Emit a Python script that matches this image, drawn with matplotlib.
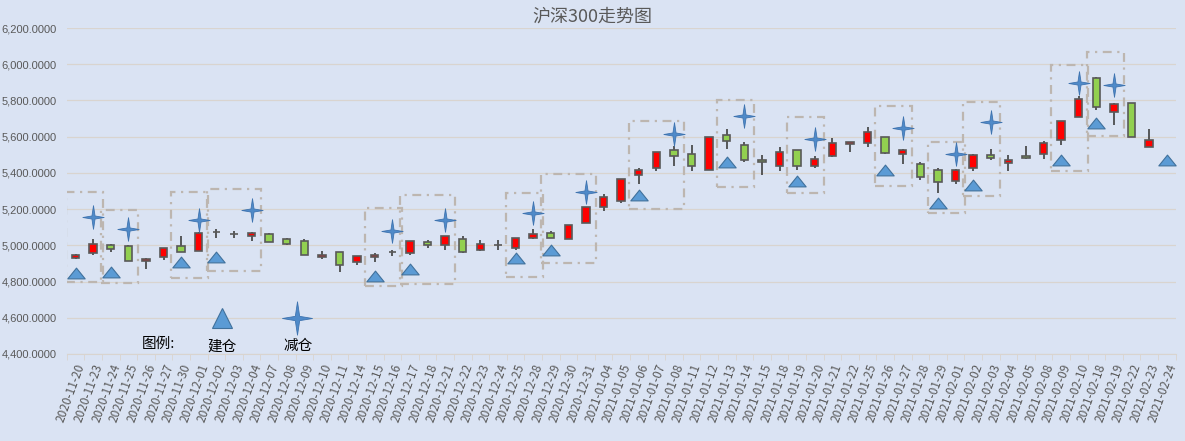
import matplotlib
matplotlib.use("Agg")
import matplotlib.pyplot as plt
import numpy as np
from matplotlib.path import Path
from matplotlib.patches import Rectangle
from matplotlib.ticker import FuncFormatter

plt.rcParams["font.family"] = ["Noto Sans CJK SC", "DejaVu Sans"]

dates = [
    "2020-11-20", "2020-11-23", "2020-11-24", "2020-11-25", "2020-11-26", "2020-11-27", "2020-11-30",
    "2020-12-01", "2020-12-02", "2020-12-03", "2020-12-04", "2020-12-07", "2020-12-08", "2020-12-09",
    "2020-12-10", "2020-12-11", "2020-12-14", "2020-12-15", "2020-12-16", "2020-12-17", "2020-12-18",
    "2020-12-21", "2020-12-22", "2020-12-23", "2020-12-24", "2020-12-25", "2020-12-28", "2020-12-29",
    "2020-12-30", "2020-12-31", "2021-01-04", "2021-01-05", "2021-01-06", "2021-01-07", "2021-01-08",
    "2021-01-11", "2021-01-12", "2021-01-13", "2021-01-14", "2021-01-15", "2021-01-18", "2021-01-19",
    "2021-01-20", "2021-01-21", "2021-01-22", "2021-01-25", "2021-01-26", "2021-01-27", "2021-01-28",
    "2021-01-29", "2021-02-01", "2021-02-02", "2021-02-03", "2021-02-04", "2021-02-05", "2021-02-08",
    "2021-02-09", "2021-02-10", "2021-02-18", "2021-02-19", "2021-02-22", "2021-02-23", "2021-02-24",
]

nan = np.nan
open_ = [4930, 4957, 5000, 4995, 4914, 4935, 4995, 4968, 5074, 5063, 5049, 5065, 5033, 5022, 4934, 4962,
         4907, 4935, 4964, 4960, 5016, 5000, 5037, 4976, 5000, 4987, 5042, 5070, 5035, 5125, 5213, 5244,
         5389, 5425, 5526, 5504, 5417, 5609, 5555, 5471, 5438, 5526, 5438, 5491, 5559, 5564, 5598, 5504,
         5449, 5415, 5355, 5426, 5498, 5456, 5494, 5503, 5580, 5707, 5923, 5735, 5785, 5542, nan]
high = [4952, 5033, 5006, 5004, 4930, 4984, 5054, 5076, 5092, 5078, 5076, 5070, 5038, 5033, 4968, 4962,
        4941, 4957, 4975, 5022, 5027, 5049, 5051, 5031, 5031, 5042, 5092, 5079, 5114, 5213, 5284, 5367,
        5428, 5517, 5550, 5553, 5599, 5644, 5568, 5498, 5542, 5526, 5495, 5592, 5570, 5653, 5598, 5533,
        5461, 5426, 5424, 5504, 5531, 5498, 5547, 5577, 5687, 5825, 5932, 5785, 5785, 5641, nan]
low = [4925, 4946, 4964, 4912, 4870, 4919, 4962, 4968, 5042, 5038, 5022, 5016, 5000, 4946, 4922, 4854,
       4892, 4908, 4941, 4948, 4984, 4973, 4958, 4969, 4974, 4976, 5033, 5040, 5035, 5125, 5189, 5235,
       5340, 5408, 5439, 5408, 5414, 5531, 5458, 5388, 5410, 5415, 5427, 5485, 5515, 5542, 5502, 5450,
       5358, 5288, 5338, 5410, 5471, 5410, 5477, 5476, 5553, 5707, 5746, 5663, 5597, 5542, nan]
close = [4946, 5006, 4978, 4914, 4925, 4984, 4962, 5070, 5074, 5063, 5067, 5020, 5009, 4946, 4946, 4892,
         4941, 4946, 4964, 5022, 5000, 5049, 4965, 5009, 5000, 5042, 5064, 5040, 5114, 5213, 5268, 5367,
         5416, 5517, 5493, 5438, 5599, 5576, 5469, 5458, 5517, 5438, 5476, 5564, 5570, 5625, 5509, 5526,
         5377, 5349, 5417, 5498, 5482, 5471, 5481, 5564, 5687, 5807, 5766, 5779, 5597, 5580, nan]

# 建仓 (triangle) and 减仓 (star) signals: day index and price
buy_days = [0, 2, 6, 8, 17, 19, 25, 27, 32, 37, 41, 46, 49, 51, 56, 58, 62]
buy_prices = [4846, 4853, 4910, 4936, 4829, 4871, 4930, 4974, 5278, 5458, 5355, 5415, 5233, 5334, 5472, 5678, 5470]
sell_days = [1, 3, 7, 10, 18, 21, 26, 29, 34, 38, 42, 47, 50, 52, 57, 59]
sell_prices = [5157, 5088, 5142, 5196, 5079, 5139, 5176, 5294, 5616, 5715, 5587, 5647, 5503, 5682, 5895, 5886]

# holding periods: first day, last day, price low, price high
box_start = [0, 2, 6, 8, 17, 19, 25, 27, 32, 37, 41, 46, 49, 51, 56, 58]
box_end = [1, 3, 7, 10, 18, 21, 26, 29, 34, 38, 42, 47, 50, 52, 57, 59]
box_low = [4796, 4790, 4822, 4860, 4776, 4785, 4824, 4905, 5199, 5321, 5288, 5325, 5179, 5273, 5411, 5604]
box_high = [5297, 5196, 5297, 5311, 5207, 5278, 5288, 5394, 5689, 5800, 5706, 5771, 5573, 5789, 5997, 6065]

bg = "#dae3f3"
star = Path([(0, 1), (0.13, 0.13), (0.9, 0), (0.13, -0.13), (0, -1), (-0.13, -0.13),
             (-0.9, 0), (-0.13, 0.13), (0, 1)],
            [Path.MOVETO] + [Path.LINETO] * 7 + [Path.CLOSEPOLY])
tri = Path([(-1, -0.62), (1, -0.62), (0, 0.62), (-1, -0.62)],
           [Path.MOVETO, Path.LINETO, Path.LINETO, Path.CLOSEPOLY])

fig = plt.figure(figsize=(11.85, 4.41), dpi=100, facecolor=bg)
ax = fig.add_axes([0.0563, 0.1973, 0.9357, 0.7392], facecolor=bg)

x = np.arange(len(dates))
o = np.array(open_, dtype=float)
c = np.array(close, dtype=float)
h = np.array(high, dtype=float)
l = np.array(low, dtype=float)
up = c >= o
colors = np.where(up, "#ff0000", "#92d050")

ax.vlines(x, l, h, color="#404040", lw=1.2, zorder=2)
ax.bar(x, np.abs(c - o), bottom=np.minimum(o, c), width=0.42, color=colors,
       edgecolor="#595959", linewidth=1.2, zorder=3)

for s, e, lo, hi in zip(box_start, box_end, box_low, box_high):
    ax.add_patch(Rectangle((s - 0.55, lo), e - s + 1.1, hi - lo, fill=False,
                           edgecolor="#bdb6b0", lw=1.6, linestyle=(0, (4, 2.5, 1, 2.5)), zorder=4))

ax.plot(buy_days, buy_prices, linestyle="none", marker=tri, markersize=12.5,
        color="#5b9bd5", markeredgecolor="#41719c", markeredgewidth=0.8, zorder=5)
ax.plot(sell_days, sell_prices, linestyle="none", marker=star, markersize=17,
        color="#4f8ac9", markeredgecolor="#3f74b0", markeredgewidth=0.6, zorder=5)

# in-chart legend
ax.plot([8.35], [4600], linestyle="none", marker="^", markersize=14,
        color="#5b9bd5", markeredgecolor="#41719c", markeredgewidth=0.8, zorder=5)
ax.plot([12.6], [4600], linestyle="none", marker=star, markersize=24,
        color="#4f8ac9", markeredgecolor="#3f74b0", markeredgewidth=0.6, zorder=5)
ax.text(4.7, 4455, "图例:", ha="center", va="center", fontsize=10.5, color="#000000")
ax.text(8.35, 4443, "建仓", ha="center", va="center", fontsize=10.5, color="#000000")
ax.text(12.65, 4443, "减仓", ha="center", va="center", fontsize=10.5, color="#000000")

ax.set_xlim(-0.5, len(dates) - 0.5)
ax.set_ylim(4400, 6200)
ax.set_yticks(np.arange(4400, 6201, 200))
ax.set_yticklabels([f"{v:,.4f}" for v in np.arange(4400, 6201, 200)],
                   fontfamily="Liberation Sans", fontsize=8, color="#595959")
ax.grid(axis="y", color="#d9d4cf", lw=0.9, zorder=0)
ax.set_axisbelow(True)

ax.set_xticks(x)
ax.set_xticklabels(dates, rotation=70, ha="right", rotation_mode="anchor", fontsize=8.5, color="#595959")
ax.set_xticks(np.arange(-0.5, len(dates)), minor=True)
ax.tick_params(axis="x", which="major", length=0, pad=6)
ax.tick_params(axis="x", which="minor", length=4, color="#d9d4cf")
ax.tick_params(axis="y", length=0, pad=7)

for side in ["top", "right", "left"]:
    ax.spines[side].set_visible(False)
ax.spines["bottom"].set_color("#d9d4cf")

fig.text(0.5, 0.963, "沪深300走势图", ha="center", va="center", fontsize=13, color="#595959")

fig.savefig("out.png", dpi=100, facecolor=bg)
